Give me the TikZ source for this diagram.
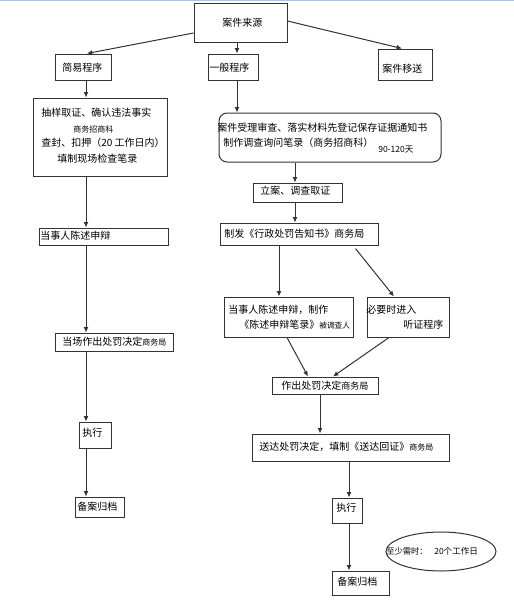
\documentclass[tikz,border=0pt]{standalone}
\usepackage{fontspec}
\newfontfamily\cjk{Noto Sans CJK SC}
\usetikzlibrary{arrows.meta,fit,shapes.geometric}
\begin{document}
\begin{tikzpicture}[x=0.75pt,y=-0.75pt,
  box/.style={draw=black!80, line width=0.75pt, inner sep=0pt, fill=white},
  rbox/.style={box, rounded corners=6pt},
  txt/.style={anchor=west, inner sep=0pt, font=\cjk\fontsize{7.5}{9}\selectfont, text=black},
  sml/.style={txt, font=\cjk\fontsize{6}{7}\selectfont},
  arr/.style={draw=black!80, line width=0.75pt, -{Latex[length=4pt,width=3.6pt]}}]
\useasboundingbox (0,0) rectangle (514,600);
\fill[white] (0,0) rectangle (514,600);
\draw[line width=0.9pt, color={rgb,255:red,170;green,196;blue,230}] (0,0.6) -- (514,0.6);

% top row
\node[box, fit={(194,3)(287,42)}] (src) {};
\node[txt] (srcT) at (222,23) {案件来源};
\node[box, fit={(55,54)(111,80)}] (simple) {};
\node[txt] (simpleT) at (62,68) {简易程序};
\node[box, fit={(208,54)(258,80)}] (general) {};
\node[txt] (generalT) at (209,68) {一般程序};
\node[box, fit={(378,49)(432,80)}] (transfer) {};
\node[txt] (transferT) at (382,69) {案件移送};

% left column
\node[box, fit={(33,98)(167,176)}] (evid) {};
\node[txt] (evidA) at (41,113) {抽样取证、确认违法事实};
\node[sml] (evidB) at (73,129) {商务招商科};
\node[txt] (evidC) at (41,143) {查封、扣押（20 工作日内）};
\node[txt] (evidD) at (57,159) {填制现场检查笔录};
\node[box, fit={(39,228)(168,245)}] (plead1) {};
\node[txt] (plead1T) at (40,236) {当事人陈述申辩};
\node[box, fit={(55,333)(173,351)}] (decide1) {};
\node[txt] (decide1T) at (62,342) {当场作出处罚决定{\fontsize{6}{7}\selectfont 商务局}};
\node[box, fit={(79,422)(111,448)}] (exec1) {};
\node[txt] (exec1T) at (82,433) {执行};
\node[box, fit={(75,497)(124,517)}] (arch1) {};
\node[txt] (arch1T) at (77,507) {备案归档};

% right column
\node[rbox, fit={(219,113)(441,162)}] (accept) {};
\node[txt] (acceptA) at (217,128) {案件受理审查、落实材料先登记保存证据通知书};
\node[txt] (acceptB) at (223,143) {制作调查询问笔录（商务招商科）};
\node[sml, font=\cjk\fontsize{6.4}{7.5}\selectfont] (acceptC) at (378,150) {90-120天};
\node[box, fit={(253,183)(342,202)}] (file) {};
\node[txt] (fileT) at (260,191) {立案、调查取证};
\node[box, fit={(220,223)(378,245)}] (notice) {};
\node[txt] (noticeT) at (224,234) {制发《行政处罚告知书》商务局};
\node[box, fit={(224,297)(353,337)}] (plead2) {};
\node[txt] (plead2A) at (228,310) {当事人陈述申辩，制作};
\node[txt] (plead2B) at (239,325) {《陈述申辩笔录》{\fontsize{5.8}{7}\selectfont 被调查人}};
\node[box, fit={(367,297)(449,337)}] (hearing) {};
\node[txt] (hearingA) at (366,310) {必要时进入};
\node[txt] (hearingB) at (403,325) {听证程序};
\node[box, fit={(272,377)(378,394)}] (decide2) {};
\node[txt] (decide2T) at (281,386) {作出处罚决定{\fontsize{6.8}{8}\selectfont 商务局}};
\node[box, fit={(252,434)(449,461)}] (deliver) {};
\node[txt] (deliverT) at (259,447) {送达处罚决定，填制《送达回证》{\fontsize{6}{7}\selectfont 商务局}};
\node[box, fit={(332,498)(362,523)}] (exec2) {};
\node[txt] (exec2T) at (336,508) {执行};
\node[box, fit={(332,571)(389,595)}] (arch2) {};
\node[txt] (arch2T) at (337,582) {备案归档};
\node[draw=black!80, line width=0.75pt, ellipse, minimum width=110*0.75pt, minimum height=39*0.75pt, inner sep=0pt] (dur) at (441,551.5) {};
\node[sml, font=\cjk\fontsize{6.2}{7}\selectfont] (durA) at (386,551) {至少需时：};
\node[sml, font=\cjk\fontsize{6.4}{7}\selectfont] (durB) at (434,551) {20个工作日};

% connectors
\draw[arr] (src.west |- 0,33) -- (simple.north -| 87,0);
\draw[arr] (src.south -| 237,0) -- (general.north -| 237,0);
\draw[arr] (src.east |- 0,21) -- (transfer.north -| 402,0);
\draw[arr] (simple.south -| 86,0) -- (evid.north -| 86,0);
\draw[arr] (evid.south -| 86,0) -- (plead1.north -| 86,0);
\draw[arr] (plead1.south -| 86,0) -- (decide1.north -| 86,0);
\draw[arr] (decide1.south -| 86,0) -- (exec1.north -| 86,0);
\draw[arr] (exec1.south -| 86,0) -- (arch1.north -| 86,0);
\draw[arr] (general.south -| 237,0) -- (accept.north -| 237,0);
\draw[arr] (accept.south -| 295,0) -- (file.north -| 295,0);
\draw[arr] (file.south -| 295,0) -- (notice.north -| 295,0);
\draw[arr] (notice.south -| 279,0) -- (plead2.north -| 279,0);
\draw[arr, shorten <=3pt] (notice.south -| 353,0) -- (hearing.north -| 394,0);
\draw[arr] (plead2.south -| 287,0) -- (decide2.north -| 308,0);
\draw[arr] (hearing.south -| 389,0) -- (decide2.north -| 333,0);
\draw[arr] (decide2.south -| 320,0) -- (deliver.north -| 320,0);
\draw[arr] (deliver.south -| 349,0) -- (exec2.north -| 349,0);
\draw[arr] (exec2.south -| 349,0) -- (arch2.north -| 349,0);
\end{tikzpicture}
\end{document}
